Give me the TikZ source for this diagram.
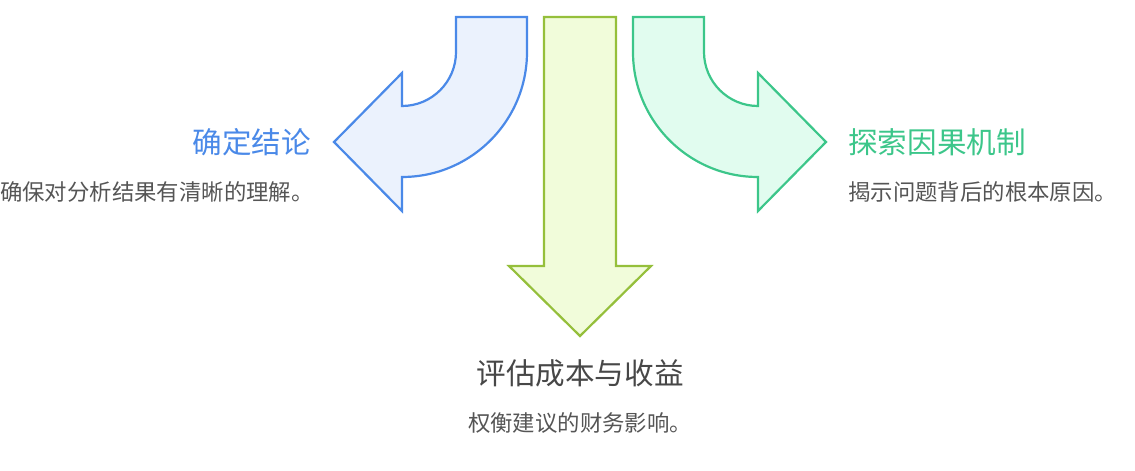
\documentclass[tikz,border=0pt]{standalone}
\usepackage{fontspec}
\newfontfamily\cjk{Noto Sans CJK SC}
\usetikzlibrary{positioning}
\definecolor{blueline}{HTML}{4A89E8}
\definecolor{bluefill}{HTML}{EBF2FD}
\definecolor{greenline}{HTML}{3CC68A}
\definecolor{greenfill}{HTML}{E1FCEF}
\definecolor{oliveline}{HTML}{95BF3B}
\definecolor{olivefill}{HTML}{F1FCDA}
\definecolor{textgray}{HTML}{555555}

\begin{document}
\begin{tikzpicture}[x=1pt,y=1pt,
    arrowshape/.style={line width=2.2pt},
    headline/.style={inner sep=0pt,font=\cjk\fontsize{29.6}{35}\selectfont},
    bodyline/.style={inner sep=0pt,text=textgray,font=\cjk\fontsize{22.4}{27}\selectfont}]
        \useasboundingbox (0,0) rectangle (1135,471);
        % left arrow
        \draw[arrowshape,draw=blueline,fill=bluefill] (456,454) -- (527,454) -- (527,419)
            arc[start angle=0,end angle=-90,radius=125pt] -- (402,260) -- (334,329)
            -- (402,398) -- (402,365) arc[start angle=-90,end angle=0,radius=54pt] -- cycle;
        % middle arrow
        \draw[arrowshape,draw=oliveline,fill=olivefill] (544,454) -- (616,454) -- (616,205)
            -- (651,205) -- (580,135) -- (509,205) -- (544,205) -- cycle;
        % right arrow
        \draw[arrowshape,draw=greenline,fill=greenfill] (704,454) -- (633,454) -- (633,419)
            arc[start angle=180,end angle=270,radius=125pt] -- (758,260) -- (826,329)
            -- (758,398) -- (758,365) arc[start angle=270,end angle=180,radius=54pt] -- cycle;
        \node[headline,text=blueline,anchor=east] (concl) at (311,329) {确定结论};
        \node[bodyline,anchor=west] (concldesc) at (0,279) {确保对分析结果有清晰的理解。};
        \node[headline,text=greenline,anchor=west] (cause) at (848,329) {探索因果机制};
        \node[bodyline,anchor=west] (causedesc) at (848,279) {揭示问题背后的根本原因。};
        \node[headline,text=black!72] (cost) at (580,98) {评估成本与收益};
        \node[bodyline] (costdesc) at (580,48) {权衡建议的财务影响。};
    \end{tikzpicture}
\end{document}
